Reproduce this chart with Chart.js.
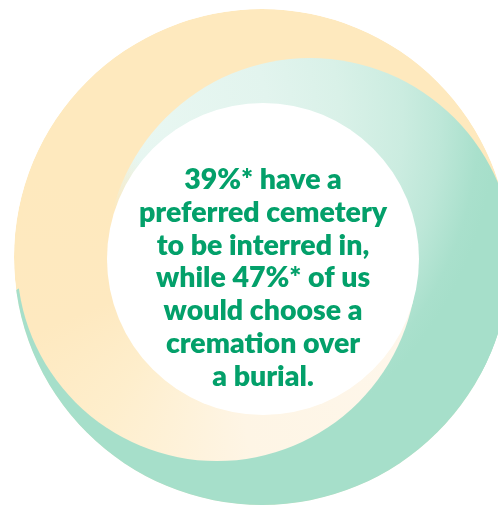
<!DOCTYPE html>
<html>
<head>
<meta charset="utf-8">
<script src="https://cdn.jsdelivr.net/npm/chart.js@4.4.0/dist/chart.umd.min.js"></script>
<style>
  html, body { margin: 0; padding: 0; background: #ffffff; }
  #wrap { width: 498px; height: 506px; position: relative; }
</style>
</head>
<body>
<div id="wrap"><canvas id="ringChart"></canvas></div>
<script>
// survey figures quoted in the middle of the ring
const statValues = [39, 47];
const textLines = [
    statValues[0] + "%* have a",
    "preferred cemetery",
    "to be interred in,",
    "while " + statValues[1] + "%* of us",
    "would choose a",
    "cremation over",
    "a burial."
];

// the overlapping discs that make the swirl, bottom layer first
const shapeNames = ["outer", "lowerGreen", "mint", "cream", "centre"];
const shapeX = [262, 290, 310, 217, 263];
const shapeY = [257, 760, 262, 261, 259];
const shapeR = [248, 544, 204, 200, 156];

const flatColours = {
    outer: "#fee9be",
    lowerGreen: "#a6dfca",
    mint: "#cdece1",
    cream: "#fef4e2",
    centre: "#ffffff"
};

function fillFor(context) {
    const chart = context.chart;
    const i = context.dataIndex;
    const name = shapeNames[i];
    if (!chart.chartArea || !chart.scales.x) {
        return flatColours[name];
    }
    const c = chart.ctx;
    const cx = chart.scales.x.getPixelForValue(shapeX[i]);
    const cy = chart.scales.y.getPixelForValue(shapeY[i]);
    if (!isFinite(cx) || !isFinite(cy)) {
        return flatColours[name];
    }

    if (name === "mint") {
        const gx = cx - 180, gy = cy - 142;
        const g = c.createRadialGradient(gx, gy, 0, gx, gy, 420);
        g.addColorStop(0, "#e9f7f2");
        g.addColorStop(0.33, "#e2f4ee");
        g.addColorStop(0.5, "#d9f1e8");
        g.addColorStop(0.65, "#cbece0");
        g.addColorStop(0.74, "#bde7d8");
        g.addColorStop(0.83, "#a9e0cc");
        g.addColorStop(0.87, "#a6dfca");
        g.addColorStop(1, "#a6dfca");
        return g;
    }

    if (name === "cream" && c.createConicGradient) {
        // opaque round the left and bottom, fading out towards the top
        const g = c.createConicGradient(-Math.PI / 9, cx, cy);
        g.addColorStop(0, "rgba(254,247,236,0)");
        g.addColorStop(0.089, "rgba(254,247,236,1)");
        g.addColorStop(0.278, "#fef5e5");
        g.addColorStop(0.406, "#feeecc");
        g.addColorStop(0.497, "#fee9c0");
        g.addColorStop(0.63, "#fee9be");
        g.addColorStop(0.7, "rgba(254,233,190,0)");
        g.addColorStop(1, "rgba(254,233,190,0)");
        return g;
    }

    return flatColours[name];
}

// keep every disc inside the outer one
const clipToOuter = {
    id: "clipToOuter",
    beforeDatasetsDraw(chart) {
        const el = chart.getDatasetMeta(0).data[0];
        if (!el) return;
        const ctx = chart.ctx;
        ctx.save();
        ctx.beginPath();
        ctx.arc(el.x, el.y, el.options.radius, 0, Math.PI * 2);
        ctx.clip();
    },
    afterDatasetsDraw(chart) {
        chart.ctx.restore();
    }
};

const centreText = {
    id: "centreText",
    afterDraw(chart) {
        const el = chart.getDatasetMeta(0).data[4];
        if (!el) return;
        const ctx = chart.ctx;
        ctx.save();
        ctx.font = "800 28.5px Lato";
        ctx.fillStyle = "#03a06a";
        ctx.textAlign = "center";
        ctx.textBaseline = "alphabetic";
        textLines.forEach((line, k) => {
            ctx.fillText(line, el.x, el.y - 70 + k * 32.8);
        });
        ctx.restore();
    }
};

new Chart(document.getElementById("ringChart"), {
    type: "bubble",
    data: {
        datasets: [{
            label: "ring",
            data: shapeX.map((x, i) => ({ x: x, y: shapeY[i], r: shapeR[i] })),
            backgroundColor: fillFor,
            borderWidth: 0,
            hoverRadius: 0,
            clip: false
        }]
    },
    options: {
        responsive: true,
        maintainAspectRatio: false,
        animation: false,
        events: [],
        layout: { padding: 0, autoPadding: false },
        plugins: {
            legend: { display: false },
            tooltip: { enabled: false }
        },
        scales: {
            x: { type: "linear", min: 0, max: 498, display: false },
            y: { type: "linear", min: 0, max: 506, reverse: true, display: false }
        }
    },
    plugins: [clipToOuter, centreText]
});
</script>
</body>
</html>
